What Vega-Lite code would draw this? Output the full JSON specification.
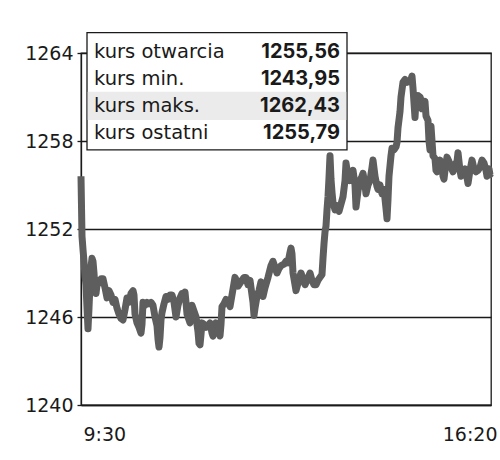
{
  "$schema": "https://vega.github.io/schema/vega-lite/v6.json",
  "width": 410,
  "height": 352,
  "autosize": {"type": "none"},
  "padding": {"left": 81, "top": 53, "right": 9, "bottom": 55},
  "background": "white",
  "config": {
    "view": {"stroke": "#1a1a1a", "strokeWidth": 1.3},
    "axis": {"labelFont": "DejaVu Sans", "labelFontSize": 19, "labelColor": "#1a1a1a", "domainColor": "#1a1a1a", "domainWidth": 1.3, "tickColor": "#1a1a1a", "tickWidth": 1.3, "gridColor": "#1a1a1a", "gridWidth": 1.3, "gridOpacity": 1}
  },
  "datasets": {
    "price": [
      {"minuta":0,"kurs":1255.6},{"minuta":1,"kurs":1251.5},{"minuta":2,"kurs":1250.6},{"minuta":3,"kurs":1249.8},{"minuta":4,"kurs":1248.8},{"minuta":5,"kurs":1248.2},{"minuta":6,"kurs":1246.6},{"minuta":7,"kurs":1245.2},{"minuta":8,"kurs":1246.6},{"minuta":9,"kurs":1248.2},{"minuta":10,"kurs":1249.4},{"minuta":11,"kurs":1250.0},{"minuta":12,"kurs":1249.8},{"minuta":13,"kurs":1249.0},{"minuta":14,"kurs":1248.0},{"minuta":15,"kurs":1247.6},{"minuta":16,"kurs":1248.2},{"minuta":17,"kurs":1248.5},{"minuta":18,"kurs":1248.3},{"minuta":20,"kurs":1248.6},{"minuta":22,"kurs":1248.6},{"minuta":24,"kurs":1248.0},{"minuta":26,"kurs":1247.3},{"minuta":28,"kurs":1247.8},{"minuta":30,"kurs":1247.5},{"minuta":32,"kurs":1247.0},{"minuta":34,"kurs":1247.2},{"minuta":36,"kurs":1246.6},{"minuta":38,"kurs":1246.2},{"minuta":40,"kurs":1245.9},{"minuta":42,"kurs":1245.8},{"minuta":44,"kurs":1246.5},{"minuta":46,"kurs":1247.3},{"minuta":48,"kurs":1247.0},{"minuta":50,"kurs":1247.6},{"minuta":52,"kurs":1247.8},{"minuta":53,"kurs":1247.5},{"minuta":54,"kurs":1246.2},{"minuta":56,"kurs":1245.6},{"minuta":58,"kurs":1245.3},{"minuta":60,"kurs":1244.9},{"minuta":61,"kurs":1245.5},{"minuta":62,"kurs":1247.0},{"minuta":64,"kurs":1246.8},{"minuta":66,"kurs":1247.0},{"minuta":68,"kurs":1246.9},{"minuta":70,"kurs":1247.0},{"minuta":72,"kurs":1246.8},{"minuta":74,"kurs":1246.0},{"minuta":76,"kurs":1245.4},{"minuta":77,"kurs":1244.5},{"minuta":78,"kurs":1243.95},{"minuta":79,"kurs":1244.6},{"minuta":80,"kurs":1245.8},{"minuta":81,"kurs":1246.3},{"minuta":83,"kurs":1246.9},{"minuta":85,"kurs":1247.4},{"minuta":87,"kurs":1247.2},{"minuta":89,"kurs":1247.5},{"minuta":91,"kurs":1247.5},{"minuta":93,"kurs":1247.0},{"minuta":95,"kurs":1246.0},{"minuta":97,"kurs":1246.8},{"minuta":99,"kurs":1247.3},{"minuta":101,"kurs":1247.6},{"minuta":103,"kurs":1247.5},{"minuta":104,"kurs":1247.7},{"minuta":105,"kurs":1247.0},{"minuta":106,"kurs":1246.2},{"minuta":108,"kurs":1245.8},{"minuta":109,"kurs":1245.6},{"minuta":110,"kurs":1246.6},{"minuta":111,"kurs":1246.8},{"minuta":113,"kurs":1246.4},{"minuta":115,"kurs":1246.0},{"minuta":117,"kurs":1245.0},{"minuta":118,"kurs":1244.2},{"minuta":119,"kurs":1244.1},{"minuta":120,"kurs":1244.8},{"minuta":121,"kurs":1245.6},{"minuta":123,"kurs":1245.5},{"minuta":125,"kurs":1245.3},{"minuta":127,"kurs":1245.4},{"minuta":129,"kurs":1245.6},{"minuta":131,"kurs":1244.9},{"minuta":132,"kurs":1244.7},{"minuta":134,"kurs":1245.2},{"minuta":135,"kurs":1245.6},{"minuta":137,"kurs":1245.3},{"minuta":139,"kurs":1244.7},{"minuta":140,"kurs":1245.5},{"minuta":141,"kurs":1246.7},{"minuta":143,"kurs":1246.9},{"minuta":145,"kurs":1247.2},{"minuta":147,"kurs":1247.1},{"minuta":149,"kurs":1246.7},{"minuta":151,"kurs":1247.5},{"minuta":154,"kurs":1248.7},{"minuta":156,"kurs":1248.4},{"minuta":157,"kurs":1248.1},{"minuta":159,"kurs":1248.3},{"minuta":161,"kurs":1248.5},{"minuta":163,"kurs":1248.7},{"minuta":165,"kurs":1248.7},{"minuta":167,"kurs":1248.2},{"minuta":169,"kurs":1248.5},{"minuta":172,"kurs":1247.0},{"minuta":173,"kurs":1246.1},{"minuta":174,"kurs":1246.6},{"minuta":176,"kurs":1247.4},{"minuta":178,"kurs":1247.8},{"minuta":180,"kurs":1248.4},{"minuta":181,"kurs":1248.0},{"minuta":182,"kurs":1247.4},{"minuta":184,"kurs":1248.0},{"minuta":187,"kurs":1248.7},{"minuta":190,"kurs":1249.5},{"minuta":192,"kurs":1249.8},{"minuta":194,"kurs":1249.4},{"minuta":196,"kurs":1249.0},{"minuta":198,"kurs":1249.3},{"minuta":200,"kurs":1249.5},{"minuta":203,"kurs":1249.6},{"minuta":205,"kurs":1249.8},{"minuta":207,"kurs":1249.7},{"minuta":209,"kurs":1250.4},{"minuta":210,"kurs":1250.7},{"minuta":211,"kurs":1250.3},{"minuta":212,"kurs":1249.0},{"minuta":214,"kurs":1248.2},{"minuta":215,"kurs":1247.8},{"minuta":217,"kurs":1248.3},{"minuta":219,"kurs":1248.8},{"minuta":220,"kurs":1249.0},{"minuta":222,"kurs":1248.6},{"minuta":224,"kurs":1248.2},{"minuta":226,"kurs":1248.5},{"minuta":229,"kurs":1249.0},{"minuta":231,"kurs":1248.5},{"minuta":233,"kurs":1248.2},{"minuta":235,"kurs":1248.2},{"minuta":237,"kurs":1248.5},{"minuta":239,"kurs":1248.7},{"minuta":241,"kurs":1248.9},{"minuta":242,"kurs":1250.0},{"minuta":243,"kurs":1251.0},{"minuta":244,"kurs":1251.8},{"minuta":245,"kurs":1252.2},{"minuta":246,"kurs":1253.3},{"minuta":247,"kurs":1254.2},{"minuta":248,"kurs":1255.5},{"minuta":249,"kurs":1257.0},{"minuta":250,"kurs":1255.4},{"minuta":251,"kurs":1254.5},{"minuta":252,"kurs":1253.8},{"minuta":254,"kurs":1253.3},{"minuta":256,"kurs":1253.6},{"minuta":258,"kurs":1253.2},{"minuta":260,"kurs":1253.7},{"minuta":262,"kurs":1254.2},{"minuta":264,"kurs":1255.3},{"minuta":265,"kurs":1256.5},{"minuta":267,"kurs":1255.6},{"minuta":269,"kurs":1255.3},{"minuta":271,"kurs":1255.8},{"minuta":272,"kurs":1256.0},{"minuta":274,"kurs":1255.0},{"minuta":275,"kurs":1253.5},{"minuta":277,"kurs":1254.6},{"minuta":279,"kurs":1255.3},{"minuta":281,"kurs":1255.6},{"minuta":282,"kurs":1255.8},{"minuta":284,"kurs":1255.0},{"minuta":285,"kurs":1254.4},{"minuta":287,"kurs":1255.0},{"minuta":289,"kurs":1255.3},{"minuta":291,"kurs":1256.2},{"minuta":292,"kurs":1256.7},{"minuta":294,"kurs":1255.6},{"minuta":296,"kurs":1254.9},{"minuta":297,"kurs":1254.7},{"minuta":299,"kurs":1255.0},{"minuta":301,"kurs":1254.4},{"minuta":303,"kurs":1254.7},{"minuta":305,"kurs":1253.4},{"minuta":306,"kurs":1252.7},{"minuta":307,"kurs":1254.0},{"minuta":308,"kurs":1255.6},{"minuta":310,"kurs":1257.0},{"minuta":311,"kurs":1257.5},{"minuta":313,"kurs":1257.4},{"minuta":315,"kurs":1257.6},{"minuta":316,"kurs":1257.9},{"minuta":317,"kurs":1258.9},{"minuta":319,"kurs":1260.0},{"minuta":320,"kurs":1261.0},{"minuta":322,"kurs":1262.0},{"minuta":324,"kurs":1262.2},{"minuta":326,"kurs":1262.0},{"minuta":328,"kurs":1262.1},{"minuta":330,"kurs":1262.2},{"minuta":331,"kurs":1262.43},{"minuta":332,"kurs":1261.6},{"minuta":334,"kurs":1259.6},{"minuta":335,"kurs":1260.8},{"minuta":337,"kurs":1261.1},{"minuta":339,"kurs":1261.0},{"minuta":340,"kurs":1260.8},{"minuta":341,"kurs":1260.2},{"minuta":343,"kurs":1260.5},{"minuta":344,"kurs":1260.7},{"minuta":345,"kurs":1259.7},{"minuta":347,"kurs":1259.4},{"minuta":348,"kurs":1258.0},{"minuta":349,"kurs":1257.4},{"minuta":350,"kurs":1259.0},{"minuta":352,"kurs":1257.0},{"minuta":354,"kurs":1256.8},{"minuta":355,"kurs":1256.0},{"minuta":356,"kurs":1255.9},{"minuta":358,"kurs":1256.4},{"minuta":359,"kurs":1256.7},{"minuta":361,"kurs":1256.3},{"minuta":362,"kurs":1255.6},{"minuta":363,"kurs":1255.4},{"minuta":364,"kurs":1256.0},{"minuta":366,"kurs":1256.9},{"minuta":368,"kurs":1256.6},{"minuta":370,"kurs":1256.2},{"minuta":372,"kurs":1255.9},{"minuta":374,"kurs":1256.4},{"minuta":376,"kurs":1256.6},{"minuta":377,"kurs":1257.2},{"minuta":379,"kurs":1256.0},{"minuta":380,"kurs":1255.6},{"minuta":382,"kurs":1255.9},{"minuta":384,"kurs":1256.1},{"minuta":386,"kurs":1255.5},{"minuta":387,"kurs":1255.1},{"minuta":389,"kurs":1256.0},{"minuta":391,"kurs":1256.7},{"minuta":393,"kurs":1256.1},{"minuta":395,"kurs":1255.9},{"minuta":397,"kurs":1256.0},{"minuta":399,"kurs":1256.2},{"minuta":401,"kurs":1256.7},{"minuta":403,"kurs":1256.5},{"minuta":405,"kurs":1256.0},{"minuta":406,"kurs":1255.6},{"minuta":407,"kurs":1255.9},{"minuta":408,"kurs":1256.1},{"minuta":409,"kurs":1255.7},{"minuta":410,"kurs":1255.79}
    ],
    "stats": [
      {"label": "kurs otwarcia", "value": "1255,56"},
      {"label": "kurs min.", "value": "1243,95"},
      {"label": "kurs maks.", "value": "1262,43"},
      {"label": "kurs ostatni", "value": "1255,79"}
    ]
  },
  "layer": [
    {
      "data": {"name": "price"},
      "mark": {"type": "line", "color": "#5e5e5e", "strokeWidth": 7, "strokeJoin": "round"},
      "encoding": {
        "x": {"field": "minuta", "type": "quantitative", "title": null,
          "scale": {"domain": [0, 410], "nice": false, "zero": false},
          "axis": {"values": [0, 410], "grid": false, "ticks": false, "tickSize": 0, "labelPadding": 20,
            "labelExpr": "datum.value == 0 ? '9:30' : '16:20'",
            "labelAlign": {"condition": {"test": "datum.value == 0", "value": "left"}, "value": "right"},
            "labelOffset": {"condition": {"test": "datum.value == 0", "value": 2}, "value": 6}}},
        "y": {"field": "kurs", "type": "quantitative", "title": null,
          "scale": {"domain": [1240, 1264], "nice": false, "zero": false},
          "axis": {"values": [1240, 1246, 1252, 1258, 1264], "format": "d", "grid": true, "tickSize": 4, "labelPadding": 4, "labelBaseline": "middle"}}
      }
    },
    {
      "data": {"values": [{}]},
      "mark": {"type": "rect", "fill": "white", "stroke": "#1a1a1a", "strokeWidth": 1.3},
      "encoding": {
        "x": {"datum": 6}, "x2": {"datum": 266},
        "y": {"datum": 1265.39}, "y2": {"datum": 1257.39}
      }
    },
    {
      "data": {"name": "stats"},
      "transform": [{"filter": "datum.label == 'kurs maks.'"}],
      "mark": {"type": "rect", "fill": "#ebebeb"},
      "encoding": {
        "x": {"datum": 6.7}, "x2": {"datum": 265.3},
        "y": {"datum": 1261.36}, "y2": {"datum": 1259.43}
      }
    },
    {
      "data": {"name": "stats"},
      "transform": [{"filter": "datum.label == 'kurs otwarcia'"}],
      "layer": [
        {"mark": {"type": "text", "align": "left", "baseline": "middle", "font": "DejaVu Sans", "fontSize": 19.5, "color": "#1a1a1a"},
         "encoding": {"x": {"datum": 13}, "y": {"datum": 1264.09}, "text": {"field": "label"}}},
        {"mark": {"type": "text", "align": "right", "baseline": "middle", "font": "Inter", "fontWeight": "bold", "fontSize": 20, "color": "#1a1a1a"},
         "encoding": {"x": {"datum": 259}, "y": {"datum": 1264.09}, "text": {"field": "value"}}}
      ]
    },
    {
      "data": {"name": "stats"},
      "transform": [{"filter": "datum.label == 'kurs min.'"}],
      "layer": [
        {"mark": {"type": "text", "align": "left", "baseline": "middle", "font": "DejaVu Sans", "fontSize": 19.5, "color": "#1a1a1a"},
         "encoding": {"x": {"datum": 13}, "y": {"datum": 1262.23}, "text": {"field": "label"}}},
        {"mark": {"type": "text", "align": "right", "baseline": "middle", "font": "Inter", "fontWeight": "bold", "fontSize": 20, "color": "#1a1a1a"},
         "encoding": {"x": {"datum": 259}, "y": {"datum": 1262.23}, "text": {"field": "value"}}}
      ]
    },
    {
      "data": {"name": "stats"},
      "transform": [{"filter": "datum.label == 'kurs maks.'"}],
      "layer": [
        {"mark": {"type": "text", "align": "left", "baseline": "middle", "font": "DejaVu Sans", "fontSize": 19.5, "color": "#1a1a1a"},
         "encoding": {"x": {"datum": 13}, "y": {"datum": 1260.37}, "text": {"field": "label"}}},
        {"mark": {"type": "text", "align": "right", "baseline": "middle", "font": "Inter", "fontWeight": "bold", "fontSize": 20, "color": "#1a1a1a"},
         "encoding": {"x": {"datum": 259}, "y": {"datum": 1260.37}, "text": {"field": "value"}}}
      ]
    },
    {
      "data": {"name": "stats"},
      "transform": [{"filter": "datum.label == 'kurs ostatni'"}],
      "layer": [
        {"mark": {"type": "text", "align": "left", "baseline": "middle", "font": "DejaVu Sans", "fontSize": 19.5, "color": "#1a1a1a"},
         "encoding": {"x": {"datum": 13}, "y": {"datum": 1258.52}, "text": {"field": "label"}}},
        {"mark": {"type": "text", "align": "right", "baseline": "middle", "font": "Inter", "fontWeight": "bold", "fontSize": 20, "color": "#1a1a1a"},
         "encoding": {"x": {"datum": 259}, "y": {"datum": 1258.52}, "text": {"field": "value"}}}
      ]
    }
  ]
}
